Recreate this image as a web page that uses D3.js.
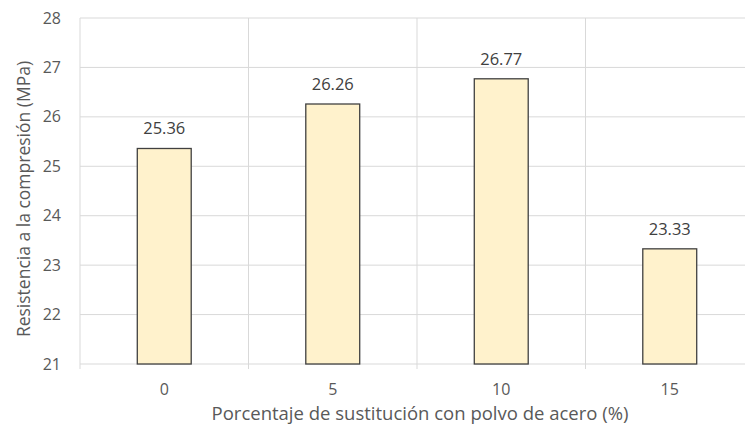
<!DOCTYPE html>
<html>
<head>
<meta charset="utf-8">
<script src="https://cdn.jsdelivr.net/npm/d3@7"></script>
<style>
  body { margin: 0; background: #fff; }
  text { font-family: "Open Sans", sans-serif; }
</style>
</head>
<body>
<div class="chart"></div>
<script>
// data
const categories = ["0", "5", "10", "15"];
const values = [25.36, 26.26, 26.77, 23.33];
const yTicks = [21, 22, 23, 24, 25, 26, 27, 28];

const W = 745, H = 433;
const margin = {top: 18, right: -9, bottom: 69, left: 80};
const width = W - margin.left - margin.right;
const height = H - margin.top - margin.bottom;

const svg = d3.select(".chart").append("svg")
    .attr("width", W)
    .attr("height", H);

const g = svg.append("g")
    .attr("transform", `translate(${margin.left},${margin.top})`);

const x = d3.scaleBand()
    .domain(categories)
    .range([0, width])
    .paddingInner(0.68)
    .paddingOuter(0.34);

const y = d3.scaleLinear()
    .domain([21, 28])
    .range([height, 0]);

// horizontal gridlines
g.selectAll(".hgrid")
    .data(yTicks)
    .enter()
    .append("line")
    .attr("x1", 0)
    .attr("x2", width)
    .attr("y1", d => y(d))
    .attr("y2", d => y(d))
    .style("stroke", "#d9d9d9")
    .style("stroke-width", 1);

// vertical gridlines between the categories (plus small ticks below)
const bounds = d3.range(categories.length + 1).map(i => i * width / categories.length);
g.selectAll(".vgrid")
    .data(bounds)
    .enter()
    .append("line")
    .attr("x1", d => d)
    .attr("x2", d => d)
    .attr("y1", 0)
    .attr("y2", height + 5)
    .style("stroke", "#d9d9d9")
    .style("stroke-width", 1);

// y tick labels
g.selectAll(".ylab")
    .data(yTicks)
    .enter()
    .append("text")
    .attr("x", -19)
    .attr("y", d => y(d))
    .attr("dy", "0.35em")
    .attr("text-anchor", "end")
    .style("font-size", "16px")
    .style("fill", "#595959")
    .text(d => d);

// x tick labels
g.selectAll(".xlab")
    .data(categories)
    .enter()
    .append("text")
    .attr("x", d => x(d) + x.bandwidth() / 2)
    .attr("y", height + 31)
    .attr("text-anchor", "middle")
    .style("font-size", "16px")
    .style("fill", "#595959")
    .text(d => d);

// bars
g.selectAll(".bar")
    .data(values)
    .enter()
    .append("rect")
    .attr("x", (d, i) => x(categories[i]))
    .attr("y", d => y(d))
    .attr("width", x.bandwidth())
    .attr("height", d => height - y(d))
    .style("fill", "#fff2cc")
    .style("stroke", "#404040")
    .style("stroke-width", 1.3);

// value labels
g.selectAll(".val")
    .data(values)
    .enter()
    .append("text")
    .attr("x", (d, i) => x(categories[i]) + x.bandwidth() / 2)
    .attr("y", d => y(d) - 14)
    .attr("text-anchor", "middle")
    .style("font-size", "16.5px")
    .style("fill", "#404040")
    .text(d => d.toFixed(2));

// axis titles
svg.append("text")
    .attr("transform", `translate(30,${margin.top + height / 2 + 8}) rotate(-90)`)
    .attr("text-anchor", "middle")
    .style("font-size", "17.5px")
    .style("fill", "#595959")
    .text("Resistencia a la compresión (MPa)");

svg.append("text")
    .attr("x", 420)
    .attr("y", 420)
    .attr("text-anchor", "middle")
    .style("font-size", "18.5px")
    .style("fill", "#595959")
    .text("Porcentaje de sustitución con polvo de acero (%)");
</script>
</body>
</html>
